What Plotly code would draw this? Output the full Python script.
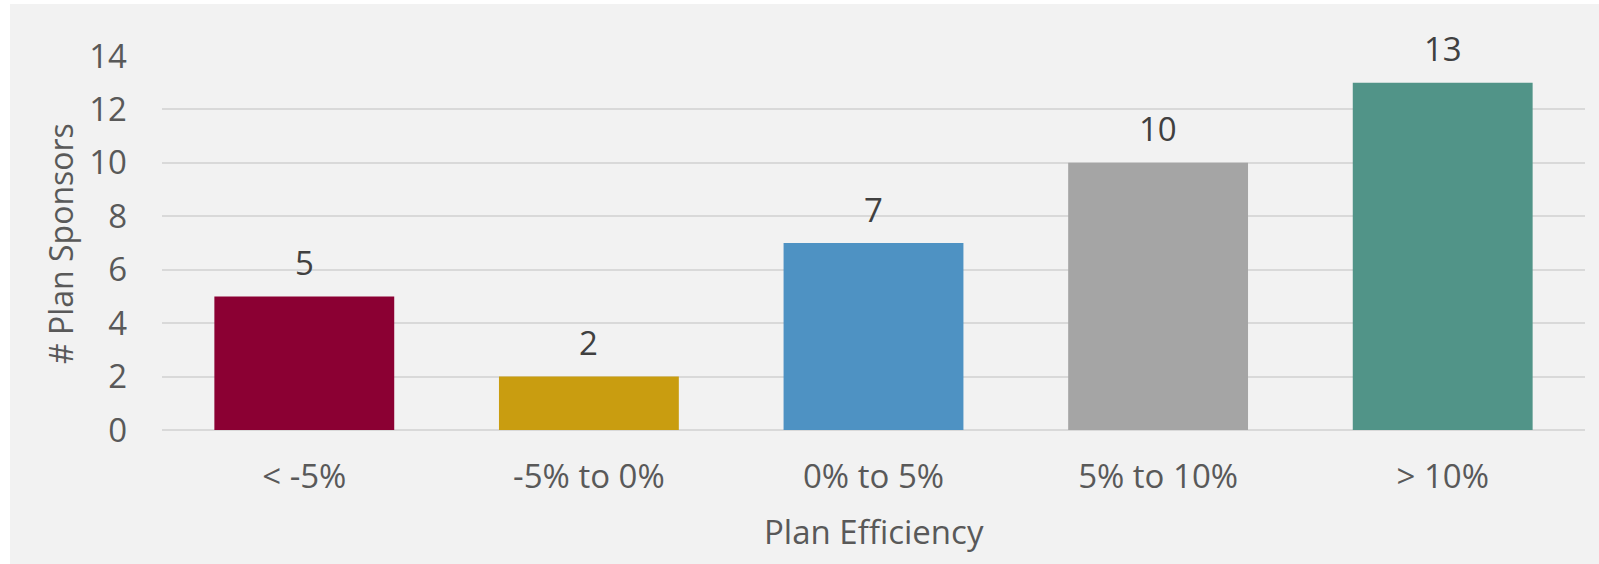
import plotly.graph_objects as go

categories = ["< -5%", "-5% to 0%", "0% to 5%", "5% to 10%", "> 10%"]
values = [5, 2, 7, 10, 13]
bar_colors = ["#8B0033", "#C99D10", "#4E92C3", "#A5A5A5", "#519488"]
y_ticks = [0, 2, 4, 6, 8, 10, 12, 14]

FONT = "Open Sans"
FS = 33

fig = go.Figure()
fig.add_trace(go.Bar(
    x=categories, y=values,
    marker=dict(color=bar_colors, line=dict(width=0)),
    hoverinfo="skip",
))

for c, v in zip(categories, values):
    fig.add_annotation(x=c, y=v, text=str(v), showarrow=False,
                       yanchor="middle", yshift=34,
                       font=dict(family=FONT, size=FS, color="#404040"))

W, H = 1599, 564
ml, mr, mt, mb = 162, 14, 56, 134
pw, ph = W - ml - mr, H - mt - mb

# gray chart background (starts at x=10, y=4)
fig.add_shape(type="rect", xref="paper", yref="paper",
              x0=(10 - ml) / pw, x1=(W + 5 - ml) / pw,
              y0=-(H + 5 - mt - ph) / ph, y1=(ph + mt - 4) / ph,
              fillcolor="#F2F2F2", line=dict(width=0), layer="below")

fig.add_annotation(xref="paper", yref="paper",
                   x=(60 - ml) / pw, y=(430 - 243) / ph,
                   text="# Plan Sponsors", textangle=-90, showarrow=False,
                   xanchor="center", yanchor="middle",
                   font=dict(family=FONT, size=32, color="#595959"))

fig.add_annotation(xref="paper", yref="paper",
                   x=(874 - ml) / pw, y=(430 - 531) / ph,
                   text="Plan Efficiency", showarrow=False,
                   xanchor="center", yanchor="middle",
                   font=dict(family=FONT, size=FS, color="#595959"))

fig.update_layout(
    width=W, height=H,
    margin=dict(l=ml, r=mr, t=mt, b=mb, pad=0),
    paper_bgcolor="white", plot_bgcolor="rgba(0,0,0,0)",
    bargap=0.368, showlegend=False,
    font=dict(family=FONT, size=FS, color="#595959"),
    xaxis=dict(showgrid=False, showline=False, zeroline=False, ticks="",
               tickfont=dict(family=FONT, size=FS, color="#595959"),
               ticklabelstandoff=24),
    yaxis=dict(range=[0, 14], tickvals=y_ticks, showgrid=True,
               gridcolor="#D9D9D9", gridwidth=1.5,
               zeroline=True, zerolinecolor="#D9D9D9", zerolinewidth=1.5,
               showline=False, ticks="",
               ticklabelstandoff=34,
               tickfont=dict(family=FONT, size=FS, color="#595959")),
)

fig.write_html("out.html")
